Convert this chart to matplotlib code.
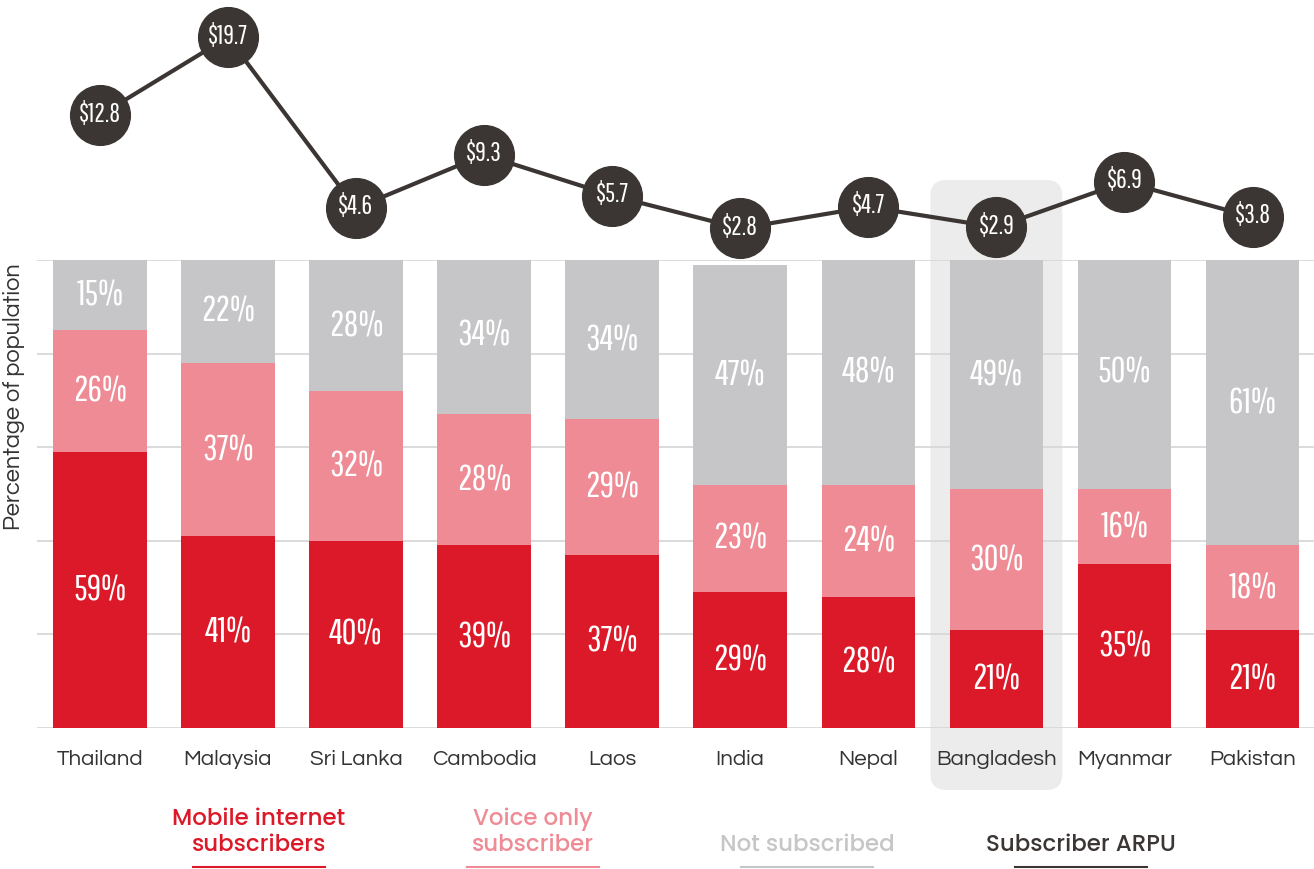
import matplotlib.pyplot as plt
from matplotlib.patches import FancyBboxPatch
from matplotlib.lines import Line2D
from matplotlib.transforms import IdentityTransform

countries = ["Thailand", "Malaysia", "Sri Lanka", "Cambodia", "Laos",
             "India", "Nepal", "Bangladesh", "Myanmar", "Pakistan"]
mobile_internet = [59, 41, 40, 39, 37, 29, 28, 21, 35, 21]
voice_only = [26, 37, 32, 28, 29, 23, 24, 30, 16, 18]
not_subscribed = [15, 22, 28, 34, 34, 47, 48, 49, 50, 61]
arpu = [12.8, 19.7, 4.6, 9.3, 5.7, 2.8, 4.7, 2.9, 6.9, 3.8]
highlight = "Bangladesh"

RED = "#dc1928"
PINK = "#ee8b94"
GREY = "#c6c6c8"
DARK = "#3b3633"
NARROW = ["Pathway Gothic One", "DejaVu Sans"]
SANS = ["Questrial", "DejaVu Sans"]
BOLD = ["Poppins", "DejaVu Sans"]

W, H = 1314, 869
fig = plt.figure(figsize=(W / 100, H / 100), dpi=100)

left = 37 / W
ax = fig.add_axes([left, (H - 728) / H, 1 - left, (728 - 260) / H])
ax_line = fig.add_axes([left, (H - 260) / H, 1 - left, 260 / H], sharex=ax)
ax.patch.set_visible(False)
ax_line.patch.set_visible(False)

x = list(range(len(countries)))
bw = 0.73

# stacked bars
ax.bar(x, mobile_internet, bw, color=RED, zorder=2)
ax.bar(x, voice_only, bw, bottom=mobile_internet, color=PINK, zorder=2)
base = [a + b for a, b in zip(mobile_internet, voice_only)]
ax.bar(x, not_subscribed, bw, bottom=base, color=GREY, zorder=2)

for vals, bottoms in [(mobile_internet, [0] * len(x)),
                      (voice_only, mobile_internet),
                      (not_subscribed, base)]:
    for i, (v, b) in enumerate(zip(vals, bottoms)):
        ax.text(i, b + v / 2, f"{v}%", ha="center", va="center",
                color="white", fontsize=26, family=NARROW, zorder=3)

ax.set_xlim(-0.49, 9.48)
ax.set_ylim(0, 100)
ax.set_yticks([0, 20, 40, 60, 80, 100])
ax.yaxis.grid(True, color="#d6d6d6", linewidth=1.2, zorder=0)
ax.tick_params(axis="y", length=0, labelleft=False)
ax.tick_params(axis="x", length=0, pad=16)
ax.set_xticks(x)
ax.set_xticklabels(countries, fontsize=16, color="#333333", family=SANS)
for s in ax.spines.values():
    s.set_visible(False)
ax.set_ylabel("Percentage of population", fontsize=17, color="#333333",
              family=SANS)
ax.yaxis.set_label_coords(-0.0095, 0.707)

# ARPU line
ax_line.plot(x, arpu, color=DARK, linewidth=3, zorder=2, clip_on=False)
ax_line.plot(x, arpu, "o", color=DARK, markersize=43, zorder=3, clip_on=False)
for i, v in enumerate(arpu):
    ax_line.text(i, v + 0.1, f"${v}", ha="center", va="center", color="white",
                 fontsize=19, family=NARROW, zorder=4)
ax_line.set_ylim(0, 23.0)
ax_line.axis("off")

# highlight box behind the selected country
hi = countries.index(highlight)
x0 = ax.transData.transform((hi - 0.515, 0))[0]
x1 = ax.transData.transform((hi + 0.515, 0))[0]
y0, y1 = H - 790, H - 180
box = FancyBboxPatch((x0, y0), x1 - x0, y1 - y0,
                     boxstyle="round,pad=0,rounding_size=16",
                     facecolor="#ececec", edgecolor="none",
                     transform=IdentityTransform(), zorder=-1)
fig.add_artist(box)

# legend
legend = [("Mobile internet\nsubscribers", RED, 259),
          ("Voice only\nsubscriber", PINK, 533),
          ("Not subscribed", GREY, 807),
          ("Subscriber ARPU", DARK, 1081)]
for label, col, cx in legend:
    fig.text(cx / W, 1 - 857 / H, label, ha="center", va="bottom",
             color=col, fontsize=16.5, family=BOLD, weight="medium",
             linespacing=1.15)
    fig.add_artist(Line2D([(cx - 66) / W, (cx + 66) / W],
                          [1 - 867 / H, 1 - 867 / H],
                          color=col, linewidth=1.5))

fig.savefig("out.png", dpi=100)
